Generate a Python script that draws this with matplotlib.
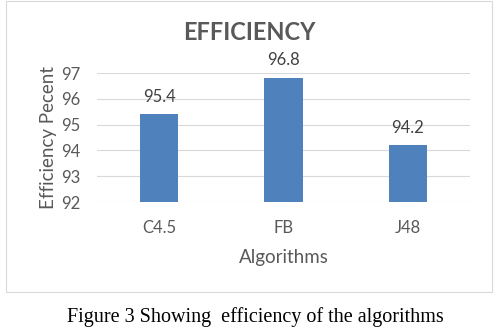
import matplotlib.pyplot as plt
from matplotlib.patches import Rectangle

# chart data
algorithms = ['C4.5', 'FB', 'J48']
efficiency = [95.4, 96.8, 94.2]
yticks = [92, 93, 94, 95, 96, 97]

plt.rcParams['font.family'] = ['Lato', 'DejaVu Sans']

fig = plt.figure(figsize=(4.97, 3.34), dpi=100)

# chart frame
fig.patches.append(Rectangle((6 / 497, 1 - 292 / 334), 486 / 497, 291 / 334,
                             transform=fig.transFigure, fill=False,
                             edgecolor='#d9d9d9', linewidth=0.8))

ax = fig.add_axes([97 / 497, 1 - 202 / 334, 373 / 497, 129 / 334])
bars = ax.bar(algorithms, efficiency, width=0.31, color='#4f81bd',
              bottom=0, zorder=3)
ax.set_ylim(92, 97)
ax.set_xlim(-0.5, 2.5)
ax.set_yticks(yticks)
ax.grid(axis='y', color='#d9d9d9', linewidth=0.8, zorder=0)
for s in ax.spines.values():
    s.set_visible(False)
ax.tick_params(axis='y', length=0, labelsize=12, colors='#595959', pad=12)
ax.tick_params(axis='x', length=0, labelsize=12, colors='#595959', pad=13)

for x, v in enumerate(efficiency):
    ax.annotate(f'{v}', (x, v), xytext=(0, 7), textcoords='offset points',
                ha='center', va='bottom', fontsize=12, color='#404040',
                annotation_clip=False)

ax.set_ylabel('Efficiency Pecent', fontsize=13.5, color='#595959', labelpad=3)
ax.set_xlabel('Algorithms', fontsize=13.5, color='#595959', labelpad=9)
fig.text(249 / 497, 1 - 32 / 334, 'EFFICIENCY', ha='center', va='center',
         fontsize=17, fontweight='bold', color='#595959')

fig.text(255 / 497, 1 - 317 / 334, 'Figure 3 Showing  efficiency of the algorithms',
         ha='center', va='center', fontsize=14.5, color='black',
         family='Liberation Serif')

fig.savefig('out.png', dpi=100)
